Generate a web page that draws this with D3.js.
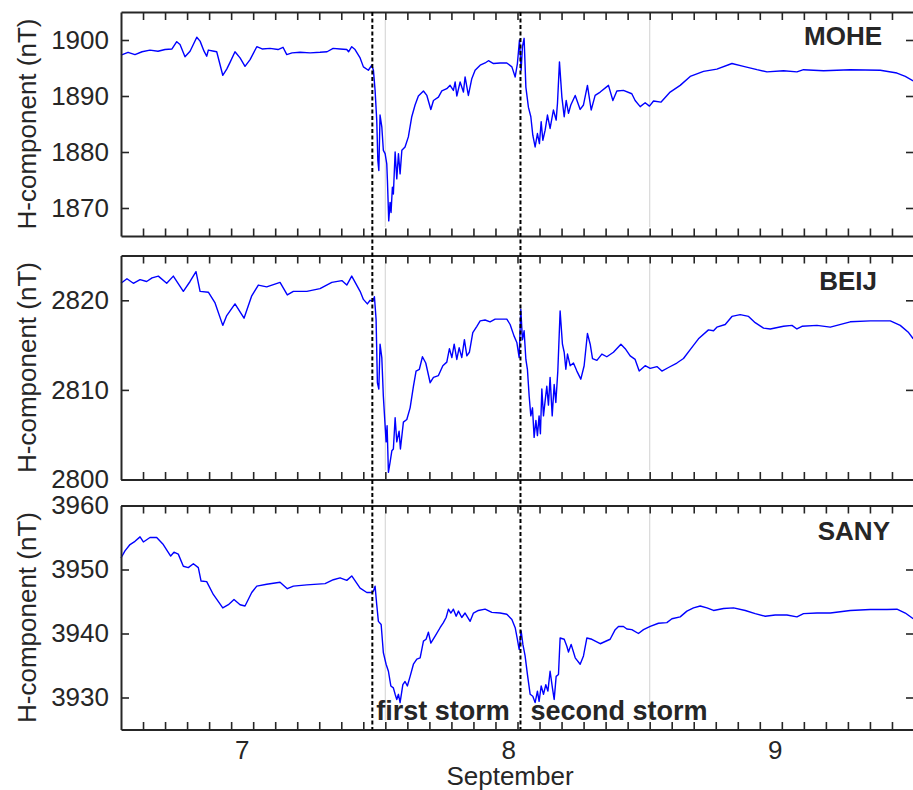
<!DOCTYPE html>
<html>
<head>
<meta charset="utf-8">
<script src="https://cdn.jsdelivr.net/npm/d3@7"></script>
<style>
body { margin: 0; background: #fff; }
text { font-family: "Liberation Sans", Arial, sans-serif; fill: #262626; }
</style>
</head>
<body>
<script>
// Hours since 7 Sep 00 UT, H-component (nT)

var moheData = [
  [0.00,1897.3],[0.64,1897.8],[1.27,1897.4],[1.91,1897.9],[2.63,1898.2],[3.36,1898.0],[4.00,1898.3],
  [4.63,1898.4],[5.06,1899.7],[5.36,1899.2],[5.81,1897.0],[6.27,1898.0],[6.88,1900.5],[7.18,1899.8],
  [7.54,1898.0],[7.78,1897.1],[7.93,1898.2],[8.45,1898.0],[8.69,1897.9],[9.24,1893.7],[9.60,1894.8],
  [9.90,1896.0],[10.35,1897.9],[10.81,1896.8],[11.26,1895.3],[11.72,1896.5],[12.33,1898.8],[12.81,1898.4],
  [13.53,1898.5],[14.26,1898.3],[14.71,1898.7],[15.05,1897.4],[15.53,1897.7],[16.26,1897.8],[17.17,1897.7],
  [18.07,1897.8],[18.71,1897.9],[19.26,1898.5],[19.89,1898.4],[20.50,1898.3],[20.66,1897.9],[20.95,1898.8],
  [21.25,1898.3],[21.71,1896.8],[22.01,1895.2],[22.46,1894.6],[22.77,1895.5],[22.92,1894.6],[23.07,1891.0],
  [23.22,1885.7],[23.32,1878.5],[23.41,1876.7],[23.52,1886.6],[23.68,1884.5],[23.82,1880.3],[23.98,1879.7],
  [24.13,1877.9],[24.19,1874.9],[24.31,1867.7],[24.43,1871.0],[24.52,1869.2],[24.64,1873.7],[24.73,1872.5],
  [24.89,1880.0],[25.04,1875.2],[25.19,1879.7],[25.34,1876.1],[25.50,1880.3],[25.79,1880.9],[26.09,1882.7],
  [26.40,1886.3],[26.70,1888.4],[27.00,1890.0],[27.46,1890.9],[27.77,1890.1],[28.13,1887.6],[28.37,1889.2],
  [28.82,1889.8],[29.13,1890.9],[29.58,1891.3],[29.88,1891.9],[30.18,1891.0],[30.34,1892.5],[30.49,1890.0],
  [30.79,1892.5],[31.09,1890.7],[31.24,1893.4],[31.54,1890.1],[31.85,1893.1],[32.15,1894.6],[32.61,1895.5],
  [33.06,1895.9],[33.36,1896.3],[33.82,1895.8],[34.42,1895.9],[35.03,1895.9],[35.49,1895.2],[35.79,1893.4],
  [35.99,1895.8],[36.18,1900.0],[36.33,1894.6],[36.45,1898.8],[36.60,1900.3],[36.76,1891.6],[36.99,1888.0],
  [37.21,1886.3],[37.39,1883.0],[37.60,1880.9],[37.81,1883.3],[37.99,1881.5],[38.15,1885.4],[38.30,1882.1],
  [38.51,1883.9],[38.72,1886.6],[38.96,1884.2],[39.26,1887.5],[39.51,1885.7],[39.63,1888.7],[39.81,1896.1],
  [40.03,1889.8],[40.24,1886.3],[40.42,1889.2],[40.63,1886.9],[40.84,1888.4],[41.24,1890.1],[41.69,1887.6],
  [41.99,1888.4],[42.35,1891.9],[42.69,1887.5],[43.05,1890.1],[43.51,1890.7],[44.26,1891.9],[44.66,1889.2],
  [45.02,1890.9],[45.62,1891.0],[46.38,1890.4],[46.68,1889.2],[47.14,1888.1],[47.59,1888.8],[47.98,1888.2],
  [48.35,1889.1],[49.02,1888.9],[49.86,1890.7],[50.77,1891.9],[51.68,1893.5],[52.89,1894.4],[54.10,1894.8],
  [55.47,1895.8],[56.52,1895.3],[57.74,1894.7],[58.65,1894.3],[60.15,1894.5],[61.37,1894.3],[61.97,1894.7],
  [63.79,1894.5],[66.21,1894.7],[68.94,1894.6],[70.45,1894.1],[71.21,1893.5],[71.93,1892.7]
];

var beijData = [
  [0.00,2821.9],[0.54,2822.4],[1.12,2821.9],[1.73,2822.3],[2.33,2822.1],[2.82,2822.5],[3.39,2822.7],
  [4.15,2821.9],[4.75,2822.7],[5.66,2821.0],[6.27,2822.1],[6.81,2823.2],[7.18,2821.0],[7.93,2820.9],
  [8.54,2819.7],[9.24,2817.2],[9.60,2818.3],[10.35,2819.6],[11.17,2818.0],[11.87,2820.5],[12.47,2821.7],
  [13.23,2821.5],[14.44,2822.0],[15.10,2820.6],[15.65,2821.0],[16.87,2821.0],[18.07,2821.3],[19.14,2822.0],
  [20.05,2822.2],[20.50,2821.7],[20.95,2822.7],[21.71,2821.0],[22.01,2820.1],[22.37,2819.6],[22.62,2820.0],
  [22.86,2819.9],[23.01,2820.4],[23.16,2817.9],[23.28,2810.8],[23.41,2810.1],[23.52,2815.1],[23.68,2813.6],
  [23.82,2809.3],[23.98,2806.0],[24.07,2804.2],[24.16,2806.0],[24.28,2800.8],[24.43,2801.9],[24.59,2803.2],
  [24.73,2803.4],[24.89,2806.9],[25.04,2804.2],[25.25,2805.4],[25.37,2803.4],[25.64,2806.4],[25.95,2806.7],
  [26.25,2808.0],[26.55,2810.4],[26.79,2812.1],[27.09,2812.3],[27.37,2813.7],[27.67,2813.0],[28.07,2810.8],
  [28.37,2811.4],[28.82,2811.6],[29.22,2812.7],[29.58,2813.1],[29.82,2814.6],[30.04,2813.6],[30.25,2815.1],
  [30.49,2813.4],[30.70,2814.7],[30.94,2813.6],[31.18,2815.6],[31.40,2813.8],[31.63,2814.2],[31.94,2816.4],
  [32.31,2817.1],[32.61,2817.7],[33.06,2817.8],[33.51,2817.6],[33.97,2817.9],[34.58,2817.9],[35.03,2817.9],
  [35.33,2817.3],[35.69,2816.0],[35.94,2815.3],[36.15,2813.6],[36.30,2819.0],[36.45,2815.6],[36.60,2816.6],
  [36.76,2813.4],[36.90,2812.3],[37.06,2809.3],[37.21,2807.1],[37.36,2808.0],[37.51,2804.7],[37.67,2806.6],
  [37.81,2804.9],[37.96,2807.1],[38.08,2805.1],[38.21,2810.1],[38.36,2807.1],[38.51,2808.8],[38.66,2810.4],
  [38.81,2808.3],[38.96,2811.4],[39.15,2807.1],[39.33,2810.6],[39.48,2808.6],[39.66,2812.1],[39.87,2818.8],
  [40.08,2815.1],[40.24,2814.2],[40.39,2812.3],[40.54,2814.0],[40.78,2812.7],[41.08,2813.0],[41.39,2812.1],
  [41.75,2811.2],[42.05,2812.7],[42.35,2816.3],[42.60,2815.1],[42.81,2813.5],[43.21,2813.3],[43.66,2814.0],
  [44.11,2813.7],[44.71,2814.2],[45.39,2815.1],[45.78,2814.6],[46.23,2813.8],[46.68,2813.4],[47.05,2812.1],
  [47.59,2812.7],[48.05,2812.4],[48.66,2812.6],[49.11,2812.1],[49.71,2812.5],[50.47,2813.0],[51.07,2813.5],
  [51.68,2814.5],[52.43,2815.7],[53.34,2816.7],[53.80,2816.6],[54.10,2817.0],[54.86,2817.3],[55.47,2818.2],
  [56.22,2818.4],[56.98,2818.2],[57.58,2817.5],[58.34,2816.9],[58.95,2816.8],[60.15,2817.1],[60.92,2817.2],
  [61.37,2816.8],[61.83,2817.1],[63.19,2817.2],[64.40,2817.0],[66.21,2817.6],[68.03,2817.7],[69.85,2817.7],
  [70.75,2817.2],[71.51,2816.4],[71.93,2815.7]
];

var sanyData = [
  [0.00,3951.8],[0.36,3952.9],[0.82,3953.9],[1.27,3954.4],[1.73,3955.1],[2.03,3954.3],[2.63,3955.0],
  [3.24,3955.0],[3.84,3953.9],[4.51,3952.1],[4.81,3952.7],[5.20,3952.4],[5.66,3950.5],[6.11,3950.3],
  [6.57,3950.9],[7.02,3950.3],[7.27,3948.2],[7.78,3948.1],[8.38,3946.1],[9.24,3944.0],[9.75,3944.5],
  [10.26,3945.3],[10.81,3944.5],[11.26,3944.3],[11.87,3946.4],[12.33,3947.4],[13.23,3947.7],[14.44,3948.0],
  [15.10,3947.0],[15.65,3947.4],[16.87,3947.6],[18.53,3947.8],[19.28,3948.4],[19.89,3948.7],[20.50,3948.3],
  [20.95,3949.0],[21.71,3947.1],[22.32,3946.4],[22.77,3946.4],[22.92,3946.6],[23.07,3947.4],[23.22,3944.5],
  [23.37,3941.9],[23.62,3941.4],[23.82,3937.0],[24.07,3935.2],[24.28,3934.1],[24.50,3931.8],[24.73,3931.5],
  [24.89,3930.5],[25.04,3929.7],[25.19,3930.5],[25.34,3929.2],[25.59,3932.0],[25.79,3932.5],[26.00,3931.8],
  [26.25,3933.3],[26.55,3935.2],[26.86,3936.0],[27.16,3936.2],[27.46,3938.8],[27.70,3939.1],[27.91,3940.2],
  [28.13,3938.5],[28.52,3939.6],[28.97,3940.9],[29.27,3941.7],[29.52,3942.5],[29.73,3943.8],[29.95,3943.2],
  [30.18,3943.8],[30.43,3942.7],[30.64,3943.5],[30.94,3942.5],[31.24,3943.2],[31.70,3941.9],[32.00,3943.2],
  [32.45,3943.6],[33.06,3943.8],[33.67,3943.3],[34.42,3943.2],[35.03,3943.0],[35.49,3942.2],[35.79,3940.9],
  [35.99,3939.1],[36.15,3937.5],[36.33,3940.4],[36.49,3938.3],[36.69,3936.5],[36.90,3933.6],[37.15,3930.5],
  [37.39,3930.2],[37.60,3929.2],[37.81,3931.0],[37.96,3929.4],[38.15,3931.8],[38.36,3930.5],[38.57,3932.0],
  [38.76,3931.0],[38.96,3934.1],[39.17,3931.5],[39.33,3929.7],[39.51,3933.3],[39.72,3933.6],[39.87,3939.3],
  [40.24,3939.1],[40.48,3938.0],[40.63,3937.1],[40.87,3938.3],[41.24,3936.2],[41.69,3935.2],[41.99,3936.5],
  [42.30,3939.3],[42.75,3939.1],[43.51,3938.4],[44.41,3939.1],[44.87,3940.6],[45.17,3941.1],[45.62,3941.1],
  [45.93,3940.7],[46.38,3940.6],[46.98,3940.0],[47.44,3940.6],[48.05,3941.1],[48.80,3941.6],[49.56,3941.7],
  [50.02,3942.3],[50.77,3942.6],[51.38,3943.5],[51.98,3944.0],[52.59,3944.3],[53.20,3944.0],[53.80,3943.6],
  [54.71,3943.9],[55.62,3944.0],[56.68,3943.6],[57.58,3943.1],[58.49,3942.7],[59.40,3942.9],[60.46,3942.9],
  [61.37,3942.6],[61.97,3943.1],[63.19,3943.2],[64.40,3943.2],[66.21,3943.6],[68.03,3943.75],[69.55,3943.75],
  [70.45,3943.8],[71.21,3943.2],[71.93,3942.3]
];

var stations = ["MOHE", "BEIJ", "SANY"];
var yDomains = [[1865, 1905], [2800, 2825], [3925, 3960]];
var yTicks = [[1870, 1880, 1890, 1900], [2800, 2810, 2820], [3930, 3940, 3950, 3960]];

var dayLabels = ["7", "8", "9"];
var dayLabelHours = [11, 35.2, 59.4];
var dayBoundaries = [24, 48];
var stormOnsets = [22.82, 36.27];
var stormNames = ["first storm", "second storm"];

var width = 913,
    height = 790;

var svg = d3.select("body")
            .append("svg")
            .attr("width", width)
            .attr("height", height);

var x = d3.scaleLinear()
    .domain([0, 72])
    .range([121, 914]);

var panelTops = [12, 255.5, 505.5],
    panelH = 224;
var labelPos = [[882, 33], [877, 34.5], [890, 34.5]];
var axisColor = "#262626";
var hrs = d3.range(2, 72, 2);   // minor ticks every 2 hours

var allData = [moheData, beijData, sanyData];

allData.forEach(function(data, i) {
    var top = panelTops[i], bottom = top + panelH;
    var y = d3.scaleLinear().domain(yDomains[i]).range([bottom, top]);
    var g = svg.append("g");

    // day boundary lines
    g.selectAll(".day")
      .data(dayBoundaries)
      .enter().append("line")
        .attr("x1", function(d) { return x(d); })
        .attr("x2", function(d) { return x(d); })
        .attr("y1", top + 8)
        .attr("y2", bottom - 9)
        .attr("stroke", "#dcdcdc")
        .attr("stroke-width", 1.3);

    // H trace
    var line = d3.line()
        .x(function(d) { return x(d[0]); })
        .y(function(d) { return y(d[1]); });

    g.append("path")
        .datum(data)
        .attr("fill", "none")
        .attr("stroke", "#0000ff")
        .attr("stroke-width", 1.4)
        .attr("stroke-linejoin", "round")
        .attr("d", line);

    var gb = g.append("g").attr("transform", "translate(0," + bottom + ")")
        .call(d3.axisBottom(x).tickValues(hrs).tickSizeInner(-7.5).tickSizeOuter(0).tickFormat(""));
    var gt = g.append("g").attr("transform", "translate(0," + top + ")")
        .call(d3.axisTop(x).tickValues(hrs).tickSizeInner(-8).tickSizeOuter(0).tickFormat(""));
    var gl = g.append("g").attr("transform", "translate(" + x(0) + ",0)")
        .call(d3.axisLeft(y).tickValues(yTicks[i]).tickSizeInner(-8).tickSizeOuter(0)
              .tickPadding(12).tickFormat(d3.format("d")));
    var gr = g.append("g").attr("transform", "translate(" + x(72) + ",0)")
        .call(d3.axisRight(y).tickValues(yTicks[i]).tickSizeInner(-8).tickSizeOuter(0).tickFormat(""));

    [gb, gt, gl, gr].forEach(function(a) {
        a.select(".domain").attr("stroke", axisColor).attr("stroke-width", 2);
        a.selectAll(".tick line").attr("stroke", axisColor).attr("stroke-width", 1.6);
    });
    gl.selectAll(".tick text")
        .attr("font-size", "26px")
        .attr("font-family", "Liberation Sans, Arial, sans-serif")
        .attr("fill", axisColor);

    // y label
    g.append("text")
        .attr("transform", "translate(36," + (top + panelH / 2) + ") rotate(-90)")
        .attr("text-anchor", "middle")
        .attr("font-size", "26px")
        .text("H-component (nT)");

    // station name
    g.append("text")
        .attr("x", labelPos[i][0])
        .attr("y", top + labelPos[i][1])
        .attr("text-anchor", "end")
        .attr("font-size", "26px")
        .attr("font-weight", "bold")
        .attr("fill", "#000")
        .text(stations[i]);
});

// storm onset dashed lines
svg.selectAll(".onset")
  .data(stormOnsets)
  .enter().append("line")
    .attr("x1", function(d) { return x(d); })
    .attr("x2", function(d) { return x(d); })
    .attr("y1", panelTops[0])
    .attr("y2", panelTops[2] + panelH)
    .attr("stroke", "#000")
    .attr("stroke-width", 2)
    .attr("stroke-dasharray", "4,2.5");

svg.selectAll(".storm")
  .data(stormOnsets)
  .enter().append("text")
    .attr("x", function(d, i) { return x(d) + (i === 0 ? 4 : 10); })
    .attr("y", panelTops[2] + panelH - 9.5)
    .attr("font-size", "27px")
    .attr("font-weight", "bold")
    .attr("fill", "#000")
    .text(function(d, i) { return stormNames[i]; });

// day labels
svg.selectAll(".daylab")
  .data(dayLabelHours)
  .enter().append("text")
    .attr("x", function(d) { return x(d); })
    .attr("y", 759)
    .attr("text-anchor", "middle")
    .attr("font-size", "26px")
    .text(function(d, i) { return dayLabels[i]; });

svg.append("text")
    .attr("x", 510)
    .attr("y", 785)
    .attr("text-anchor", "middle")
    .attr("font-size", "26px")
    .text("September");
</script>
</body>
</html>
